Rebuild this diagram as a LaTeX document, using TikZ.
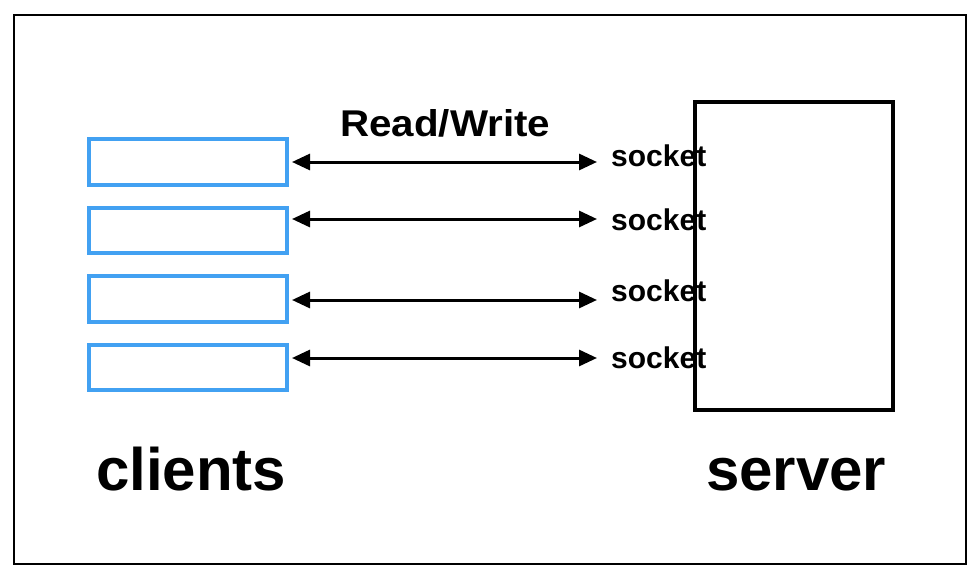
\documentclass[tikz,border=0pt]{standalone}
\usepackage{fontspec}
\setmainfont{Liberation Sans}
\usetikzlibrary{arrows.meta}
\definecolor{clientblue}{RGB}{66,161,242}
\tikzset{
  clientbox/.style={draw=clientblue, line width=3.5pt},
  serverbox/.style={draw=black, line width=4pt},
  rw/.style={draw=black, line width=3pt, {Triangle[length=18pt,width=16pt]}-{Triangle[length=18pt,width=16pt]}},
  socklabel/.style={anchor=base west, inner sep=0pt, font=\fontsize{30}{30}\selectfont\bfseries},
  biglabel/.style={anchor=base west, inner sep=0pt, font=\fontsize{60}{60}\selectfont\bfseries}
}
\begin{document}
\begin{tikzpicture}[x=1pt,y=-1pt]
\useasboundingbox (0,0) rectangle (978,578);
\draw[line width=2pt] (14,15) rectangle (966,564);
% client boxes
\draw[clientbox] (89,139) rectangle (287,185);
\draw[clientbox] (89,208) rectangle (287,253);
\draw[clientbox] (89,276) rectangle (287,322);
\draw[clientbox] (89,345) rectangle (287,390);
\node[inner sep=0pt, minimum width=198pt, minimum height=46pt] (c1) at (188,162) {};
\node[inner sep=0pt, minimum width=198pt, minimum height=46pt] (c2) at (188,230.5) {};
\node[inner sep=0pt, minimum width=198pt, minimum height=46pt] (c3) at (188,299) {};
\node[inner sep=0pt, minimum width=198pt, minimum height=46pt] (c4) at (188,367.5) {};
% server
\node[serverbox, inner sep=0pt, minimum width=198pt, minimum height=308pt] (srv) at (794,256) {};
% labels
\node[socklabel] (s1) at (611,166) {socket};
\node[socklabel] (s2) at (611,230) {socket};
\node[socklabel] (s3) at (611,301) {socket};
\node[socklabel] (s4) at (611,368) {socket};
\node[anchor=base west, inner sep=0pt, font=\bfseries] (rwl) at (340,137) {\resizebox{210pt}{27pt}{\fontsize{37}{37}\selectfont\bfseries Read/Write}};
\node[biglabel] (cl) at (96,490) {clients};
\node[biglabel] (sv) at (706,490) {server};
% arrows
\coordinate (l1) at (292,162); \coordinate (r1) at (597,162);
\coordinate (l2) at (292,219); \coordinate (r2) at (597,219);
\coordinate (l3) at (292,300); \coordinate (r3) at (597,300);
\coordinate (l4) at (292,358); \coordinate (r4) at (597,358);
\draw[rw] (l1) -- (r1);
\draw[rw] (l2) -- (r2);
\draw[rw] (l3) -- (r3);
\draw[rw] (l4) -- (r4);
\end{tikzpicture}
\end{document}
